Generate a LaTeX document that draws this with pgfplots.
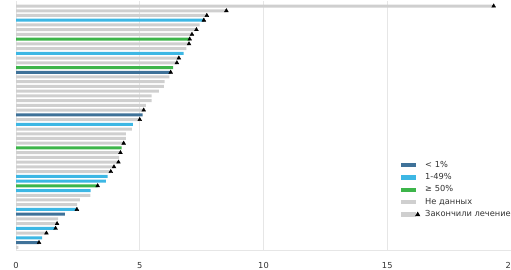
\documentclass[border=0pt]{standalone}
\usepackage{pgfplots}
\pgfplotsset{compat=1.18}
\usepackage{fontspec}
\setmainfont{DejaVu Sans}
\definecolor{cdark}{HTML}{3F7299}
\definecolor{cblue}{HTML}{3DB7E4}
\definecolor{cgreen}{HTML}{3DB54A}
\definecolor{cgrey}{HTML}{CFCFCF}
\definecolor{cgrid}{HTML}{E6E6E6}
\definecolor{ctext}{HTML}{333333}
\begin{document}
\begin{tikzpicture}
\begin{axis}[name=ax, scale only axis, width=495bp, height=248.7bp,
  xmin=0, xmax=20, ymin=0.43, ymax=53,
  axis y line=none, axis x line*=bottom,
  x axis line style={draw=cgrid, -},
  xtick={0,5,10,15,20}, ytick=\empty, major tick length=0pt,
  xmajorgrids, grid style={cgrid, line width=0.6bp},
  xticklabel style={font=\fontsize{8.3}{9}\selectfont, text=ctext, yshift=-9bp},
  /pgf/number format/assume math mode=true,
  clip=false,
  mybar/.style={xbar, bar shift=0pt, bar width=3bp, draw=none, fill=#1, forget plot},
  legend style={draw=none, fill=none, at={(0.772,0.375)}, anchor=north west,
    font=\fontsize{8.3}{9}\selectfont, text=ctext, row sep=0.8bp},
  legend cell align=left,
]
% grey: no data
\addplot[mybar=cgrey] coordinates {
(19.3,52) (8.5,51) (7.71,50) (7.42,48) (7.29,47) (7.11,46) (6.99,44) (6.88,43)
(6.58,41) (6.5,40) (6.2,37) (6.0,36) (5.97,35) (5.77,34) (5.48,33) (5.48,32)
(5.25,31) (5.16,30) (5.0,28) (4.68,26) (4.44,25) (4.44,24) (4.35,23) (4.22,21)
(4.17,20) (4.14,19) (3.96,18) (3.83,17) (3.0,12) (2.58,11) (2.47,10) (1.7,7)
(1.66,6) (1.23,4) (0.1,1)};
% 1-49%
\addplot[mybar=cblue] coordinates {
(7.59,49) (6.77,42) (4.72,27) (3.7,16) (3.63,15) (3.02,13) (2.46,9) (1.6,5) (1.06,3)};
% >= 50%
\addplot[mybar=cgreen] coordinates {
(7.02,45) (6.35,39) (4.27,22) (3.3,14)};
% < 1%
\addplot[mybar=cdark] coordinates {
(6.25,38) (5.12,29) (1.97,8) (0.93,2)};
% finished treatment
\addplot[only marks, mark=triangle*, mark size=2.2bp, black, forget plot] coordinates {
(19.3,52) (8.5,51) (7.71,50) (7.59,49) (7.29,47) (7.11,46) (7.02,45) (6.99,44)
(6.58,41) (6.5,40) (6.25,38) (5.16,30) (5.0,28) (4.35,23) (4.22,21) (4.14,19)
(3.96,18) (3.83,17) (3.3,14) (2.46,9) (1.66,6) (1.6,5) (1.23,4) (0.93,2)};
\addlegendimage{legend image code/.code={\fill[cdark] (0bp,-1.6bp) rectangle (14bp,1.6bp);\path (21.5bp,0);}}
\addlegendentry{< 1\%}
\addlegendimage{legend image code/.code={\fill[cblue] (0bp,-1.6bp) rectangle (14bp,1.6bp);\path (21.5bp,0);}}
\addlegendentry{1-49\%}
\addlegendimage{legend image code/.code={\fill[cgreen] (0bp,-1.6bp) rectangle (14bp,1.6bp);\path (21.5bp,0);}}
\addlegendentry{≥ 50\%}
\addlegendimage{legend image code/.code={\fill[cgrey] (0bp,-1.6bp) rectangle (14bp,1.6bp);\path (21.5bp,0);}}
\addlegendentry{Не данных}
\addlegendimage{legend image code/.code={\fill[cgrey] (0bp,-1.6bp) rectangle (14bp,1.6bp);\fill[black] (14bp,-1.6bp) -- (18.4bp,-1.6bp) -- (16.2bp,2.2bp) -- cycle;\path (21.5bp,0);}}
\addlegendentry{Закончили лечение}
\end{axis}
\pgfresetboundingbox
\path[use as bounding box] ([shift={(-16bp,-20bp)}]ax.south west) rectangle ([shift={(495bp,250bp)}]ax.south west);
\end{tikzpicture}
\end{document}
